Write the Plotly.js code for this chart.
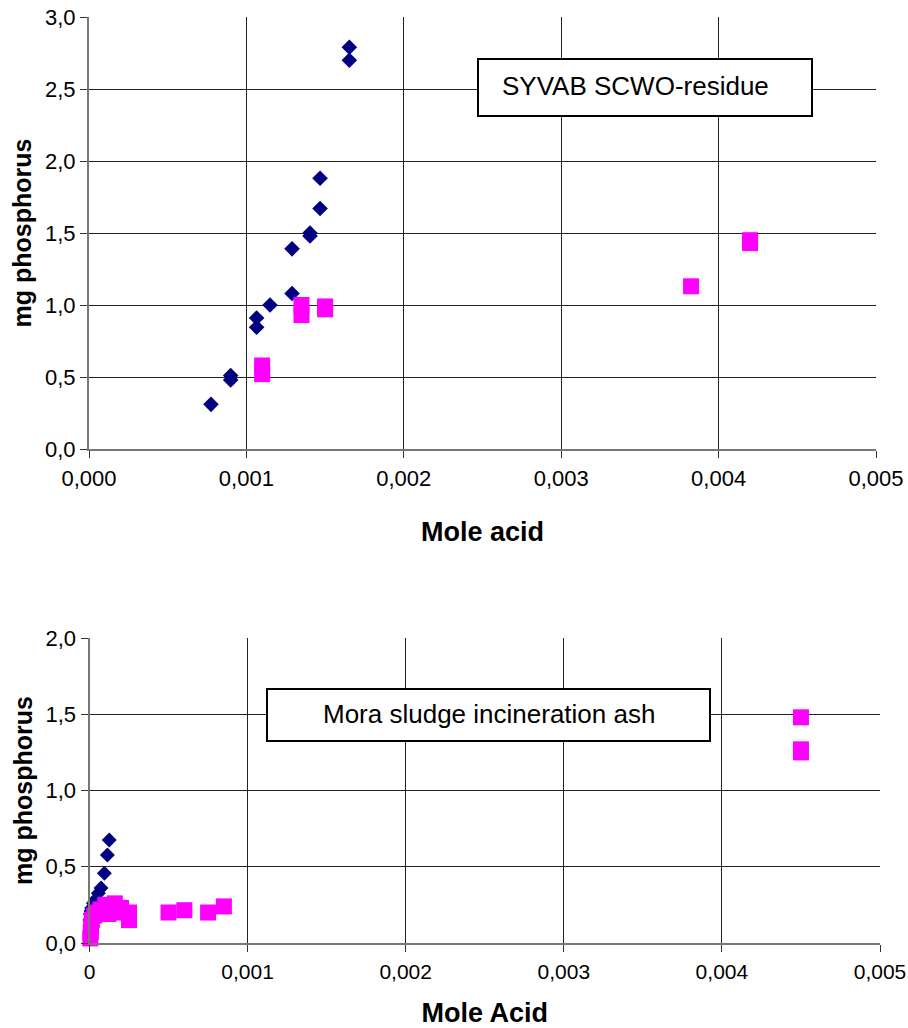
<!DOCTYPE html>
<html><head><meta charset="utf-8">
<script src="https://cdn.plot.ly/plotly-3.0.1.min.js"></script>
<style>html,body{margin:0;padding:0;background:#fff}#chart{width:908px;height:1028px}</style>
</head><body><div id="chart"></div>
<script>
// ---- Top chart: SYVAB SCWO-residue ----
const syvabBlueX = [0.000775, 0.0009, 0.0009, 0.001065, 0.001065, 0.00115, 0.00129, 0.00129, 0.001404, 0.001404, 0.001468, 0.001468, 0.001654, 0.001654];
const syvabBlueY = [0.31, 0.48, 0.51, 0.845, 0.91, 1.00, 1.08, 1.39, 1.48, 1.50, 1.67, 1.88, 2.70, 2.79];
const syvabPinkX = [0.0011, 0.0011, 0.00135, 0.00135, 0.0015, 0.0015, 0.003825, 0.0042, 0.0042];
const syvabPinkY = [0.52, 0.58, 0.93, 1.00, 0.97, 0.99, 1.13, 1.43, 1.45];

// ---- Bottom chart: Mora sludge incineration ash ----
const moraBlueX = [0.000002, 0.000005, 0.00001, 0.000014, 0.000025, 0.000035, 0.000045, 0.000056, 0.000073, 0.000094, 0.000113, 0.000125];
const moraBlueY = [0.15, 0.19, 0.21, 0.23, 0.26, 0.28, 0.29, 0.326, 0.36, 0.457, 0.577, 0.675];
const moraPinkX = [0.000005, 0.000008, 0.00001, 0.000015, 0.00003, 0.00005, 0.00007, 0.0001, 0.00012, 0.00014, 0.00016, 0.00016, 0.0002, 0.00025, 0.00025, 0.0005, 0.0006, 0.00075, 0.00085, 0.0045, 0.0045, 0.0045];
const moraPinkY = [0.03, 0.07, 0.11, 0.15, 0.18, 0.2, 0.22, 0.25, 0.19, 0.24, 0.26, 0.2, 0.23, 0.2, 0.15, 0.2, 0.215, 0.2, 0.24, 1.48, 1.27, 1.25];

// ---- Axis ticks / labels ----
const xTickVals = [0, 0.001, 0.002, 0.003, 0.004, 0.005];
const topXTickText = ['0,000', '0,001', '0,002', '0,003', '0,004', '0,005'];
const bottomXTickText = ['0', '0,001', '0,002', '0,003', '0,004', '0,005'];
const topYTickVals = [0, 0.5, 1.0, 1.5, 2.0, 2.5, 3.0];
const topYTickText = ['0,0', '0,5', '1,0', '1,5', '2,0', '2,5', '3,0'];
const bottomYTickVals = [0, 0.5, 1.0, 1.5, 2.0];
const bottomYTickText = ['0,0', '0,5', '1,0', '1,5', '2,0'];

const topLabel = 'SYVAB SCWO-residue';
const bottomLabel = 'Mora sludge incineration ash';
const topXTitle = 'Mole acid';
const bottomXTitle = 'Mole Acid';
const yTitle = 'mg phosphorus';

const NAVY = '#000080', MAGENTA = '#FF00FF';
const FONT = 'Liberation Sans, Arial, sans-serif';

const traces = [
  {x: syvabBlueX, y: syvabBlueY, xaxis: 'x', yaxis: 'y', type: 'scatter', mode: 'markers', cliponaxis: false,
   marker: {symbol: 'diamond', size: 12, color: NAVY, line: {width: 0}}},
  {x: syvabPinkX, y: syvabPinkY, xaxis: 'x', yaxis: 'y', type: 'scatter', mode: 'markers', cliponaxis: false,
   marker: {symbol: 'square', size: 16, color: MAGENTA, line: {width: 0}}},
  {x: moraBlueX, y: moraBlueY, xaxis: 'x2', yaxis: 'y2', type: 'scatter', mode: 'markers', cliponaxis: false,
   marker: {symbol: 'diamond', size: 11.5, color: NAVY, line: {width: 0}}},
  {x: moraPinkX, y: moraPinkY, xaxis: 'x2', yaxis: 'y2', type: 'scatter', mode: 'markers', cliponaxis: false,
   marker: {symbol: 'square', size: 16, color: MAGENTA, line: {width: 0}}}
];

function xAxis(domain, anchor, ticktext, title, standoff, tsize) {
  return {
    domain: domain, anchor: anchor, range: [0, 0.005], tickvals: xTickVals, ticktext: ticktext,
    showgrid: true, gridcolor: '#222', gridwidth: 1, zeroline: false,
    showline: true, linecolor: '#777', linewidth: 2,
    ticks: 'outside', ticklen: 7, tickcolor: '#333', tickwidth: 1, ticklabelstandoff: 2,
    tickfont: {family: FONT, size: tsize, color: '#000'},
    title: {text: title, standoff: standoff, font: {family: FONT, size: 27, color: '#000', weight: 'bold'}},
    fixedrange: true
  };
}
function yAxis(domain, anchor, range, vals, text) {
  return {
    domain: domain, anchor: anchor, range: range, tickvals: vals, ticktext: text,
    showgrid: true, gridcolor: '#222', gridwidth: 1, zeroline: false,
    showline: true, linecolor: '#777', linewidth: 2,
    ticks: 'outside', ticklen: 7, tickcolor: '#333', tickwidth: 1,
    tickfont: {family: FONT, size: 22, color: '#000'},
    title: {text: yTitle, standoff: 6, font: {family: FONT, size: 25, color: '#000', weight: 'bold'}},
    fixedrange: true
  };
}

const W = 908, H = 1028;
const layout = {
  width: W, height: H,
  margin: {l: 0, r: 0, t: 0, b: 0},
  paper_bgcolor: '#fff', plot_bgcolor: '#fff',
  separators: ',.',
  showlegend: false,
  font: {family: FONT, color: '#000', size: 22},
  xaxis: xAxis([89 / W, 876 / W], 'y', topXTickText, topXTitle, 32, 22),
  yaxis: yAxis([1 - 449 / H, 1 - 17 / H], 'x', [0, 3], topYTickVals, topYTickText),
  xaxis2: xAxis([89.5 / W, 880 / W], 'y2', bottomXTickText, bottomXTitle, 27, 21),
  yaxis2: yAxis([1 - 943 / H, 1 - 638 / H], 'x2', [0, 2], bottomYTickVals, bottomYTickText),
  shapes: [
    {type: 'rect', xref: 'paper', yref: 'paper', x0: 478 / W, x1: 812 / W, y0: 1 - 116 / H, y1: 1 - 59 / H,
     line: {color: '#000', width: 2}, fillcolor: '#fff', layer: 'above'},
    {type: 'rect', xref: 'paper', yref: 'paper', x0: 267 / W, x1: 710 / W, y0: 1 - 741 / H, y1: 1 - 689 / H,
     line: {color: '#000', width: 2}, fillcolor: '#fff', layer: 'above'}
  ],
  annotations: [
    {text: topLabel, xref: 'paper', yref: 'paper', x: 500 / W, y: 1 - 86 / H, xanchor: 'left', yanchor: 'middle',
     showarrow: false, font: {family: FONT, size: 26, color: '#000'}},
    {text: bottomLabel, xref: 'paper', yref: 'paper', x: 488.5 / W, y: 1 - 714 / H, xanchor: 'center', yanchor: 'middle',
     showarrow: false, font: {family: FONT, size: 26, color: '#000'}}
  ]
};

Plotly.newPlot('chart', traces, layout, {staticPlot: true, displayModeBar: false});
</script>
</body></html>
